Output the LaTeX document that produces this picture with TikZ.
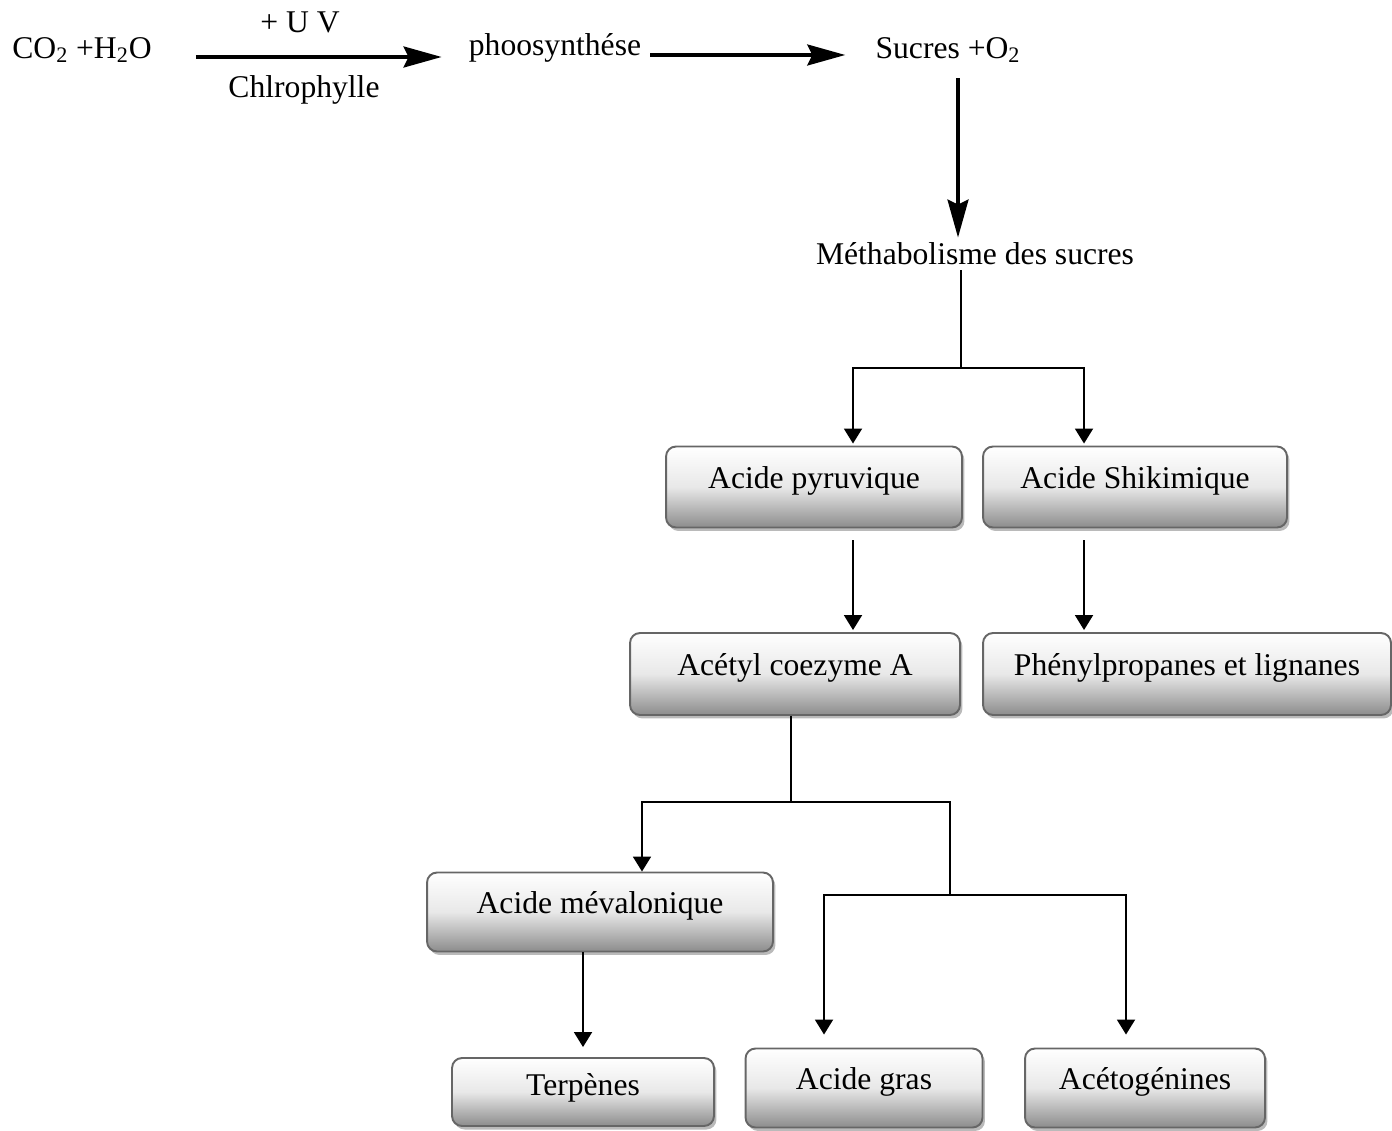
\documentclass[tikz,border=0pt]{standalone}
\usepackage{fontspec}
\setmainfont{Liberation Serif}
\usetikzlibrary{arrows.meta,shadows}

\begin{document}
\begin{tikzpicture}[x=0.02cm,y=-0.02cm,
    term/.style={font=\fontsize{18}{21}\selectfont,inner sep=0.1cm},
    stage/.style={rounded corners=0.2cm,draw=black!60,line width=1.1pt,
        top color=white,bottom color=black!45,middle color=black!9,
        drop shadow={shadow xshift=0.05cm,shadow yshift=-0.07cm,fill=black!45,opacity=0.6},
        font=\fontsize{18}{21}\selectfont,inner sep=0pt,
        text height=0.7em,text depth=0.5em},
    flow/.style={-{Triangle[length=0.3cm,width=0.36cm]},line width=1.1pt},
    link/.style={line width=1.1pt},
    bigflow/.style={-{Stealth[length=0.76cm,width=0.42cm,inset=0.1cm]},line width=1.8pt}
]
    \useasboundingbox (0,0) rectangle (1392,1131);

    % photosynthese
    \node[term] (reac) at (82,50) {CO\textsubscript{2} +H\textsubscript{2}O};
    \node[term] (uv) at (300,22) {+ U V};
    \node[term] (chl) at (304,90) {Chlrophylle};
    \node[term] (photo) at (555,48) {phoosynthése};
    \node[term] (sucres) at (948,50) {Sucres +O\textsubscript{2}};
    \node[term] (metab) at (975,254) {Méthabolisme des sucres};
    \draw[bigflow,shorten <=0.78cm,shorten >=0.44cm]
        ([yshift=-0.14cm]reac.east) -- ([yshift=-0.14cm]reac.east -| photo.west);
    \draw[bigflow,shorten <=0.08cm,shorten >=0.5cm]
        ([yshift=-0.14cm]photo.east) -- ([yshift=-0.14cm]photo.east -| sucres.west);
    \draw[bigflow,shorten <=0.2cm]
        ([xshift=0.2cm]sucres.south) -- ([xshift=0.2cm]sucres.south |- metab.north);

    % boxes
    \node[stage,minimum width=5.92cm,minimum height=1.62cm] (pyr) at (814,487) {Acide pyruvique};
    \node[stage,minimum width=6.08cm,minimum height=1.62cm] (shik) at (1135,487) {Acide Shikimique};
    \node[stage,minimum width=6.6cm,minimum height=1.64cm] (acetyl) at (795,674) {Acétyl coezyme A};
    \node[stage,minimum width=8.16cm,minimum height=1.64cm] (phenyl) at (1187,674) {Phénylpropanes et lignanes};
    \node[stage,minimum width=6.92cm,minimum height=1.58cm] (meval) at (600,912) {Acide mévalonique};
    \node[stage,minimum width=5.24cm,minimum height=1.36cm,text depth=0.3em] (terp) at (583,1092) {Terpènes};
    \node[stage,minimum width=4.74cm,minimum height=1.58cm] (gras) at (864,1088) {Acide gras};
    \node[stage,minimum width=4.8cm,minimum height=1.58cm] (aceto) at (1145,1088) {Acétogénines};

    % branches
    \coordinate (j1) at (961,368);
    \coordinate (j2) at (791,802);
    \coordinate (j3) at (950,895);
    \draw[link] (metab.south -| j1) -- (j1);
    \draw[flow,shorten >=0.04cm] (j1) -| ([xshift=0.78cm]pyr.north);
    \draw[flow,shorten >=0.04cm] (j1) -| ([xshift=-1.02cm]shik.north);
    \draw[flow,shorten <=0.24cm,shorten >=0.04cm]
        ([xshift=0.78cm]pyr.south) -- ([xshift=0.78cm]pyr.south |- acetyl.north);
    \draw[flow,shorten <=0.24cm,shorten >=0.04cm]
        ([xshift=-1.02cm]shik.south) -- ([xshift=-1.02cm]shik.south |- phenyl.north);
    \draw[link] (acetyl.south -| j2) -- (j2);
    \draw[flow] (j2) -| ([xshift=0.84cm]meval.north);
    \draw[link] (j2) -| (j3);
    \draw[flow,shorten >=0.26cm] (j3) -| ([xshift=-0.8cm]gras.north);
    \draw[flow,shorten >=0.26cm] (j3) -| ([xshift=-0.38cm]aceto.north);
    \draw[flow,shorten >=0.2cm]
        ([xshift=-0.34cm]meval.south) -- ([xshift=-0.34cm]meval.south |- terp.north);
\end{tikzpicture}
\end{document}
